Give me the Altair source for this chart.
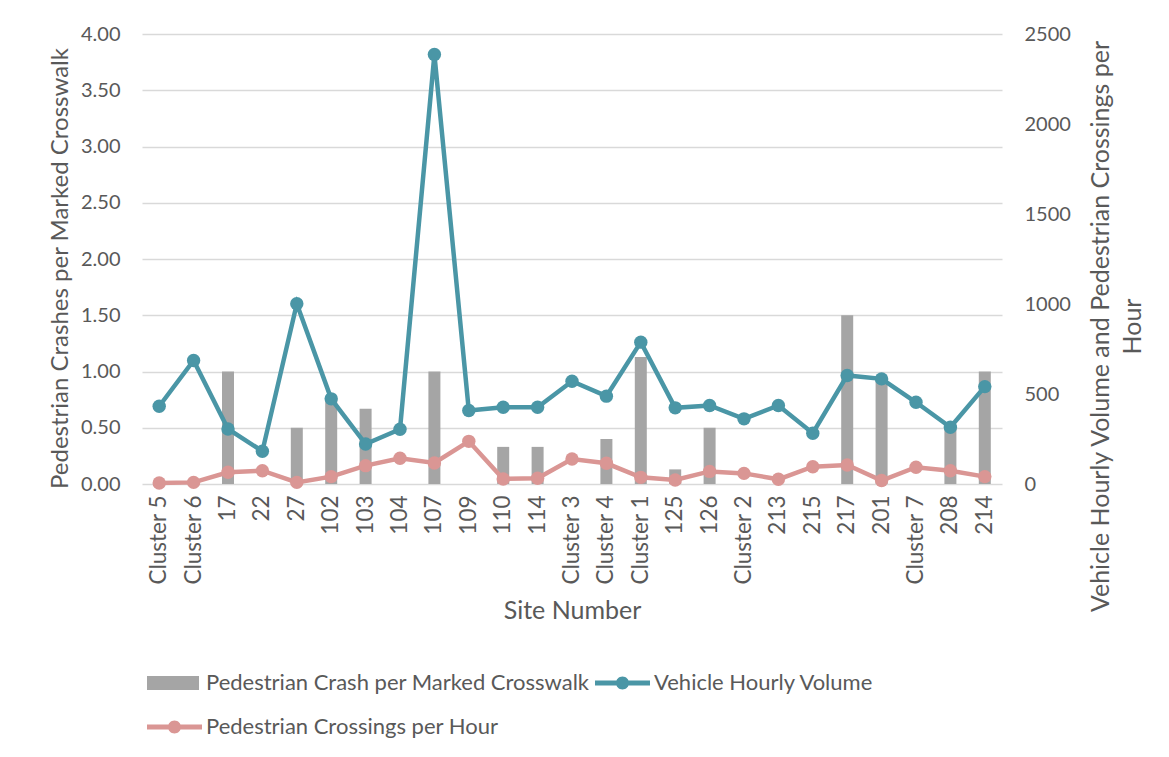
import altair as alt
import pandas as pd

sites = ["Cluster 5", "Cluster 6", "17", "22", "27", "102", "103", "104", "107", "109",
         "110", "114", "Cluster 3", "Cluster 4", "Cluster 1", "125", "126", "Cluster 2",
         "213", "215", "217", "201", "Cluster 7", "208", "214"]
crash_per_crosswalk = [0, 0, 1.00, 0, 0.50, 0.75, 0.67, 0, 1.00, 0,
                       0.33, 0.33, 0, 0.40, 1.13, 0.13, 0.50, 0,
                       0, 0, 1.50, 0.95, 0, 0.50, 1.00]
vehicle_volume = [432, 686, 306, 182, 1001, 473, 222, 304, 2386, 408,
                  426, 426, 571, 488, 788, 423, 436, 362,
                  436, 282, 603, 584, 454, 315, 541]
ped_crossings = [6, 9, 65, 74, 9, 41, 102, 143, 117, 237,
                 28, 32, 139, 115, 37, 22, 70, 59,
                 26, 96, 106, 19, 93, 74, 41]

series_names = ["Pedestrian Crash per Marked Crosswalk", "Vehicle Hourly Volume",
                "Pedestrian Crossings per Hour"]
series_colors = ["#A5A5A5", "#4A96A6", "#DA9694"]

FONT = "Lato"
TXT = "#595959"

df = pd.DataFrame({
    "site": sites,
    "crash": crash_per_crosswalk,
    "vehicle": vehicle_volume,
    "ped": ped_crossings,
})

x_enc = alt.X("site:N", sort=sites,
              scale=alt.Scale(paddingInner=0, paddingOuter=0),
              axis=alt.Axis(title="Site Number", labelAngle=270, labelPadding=11,
                            labelFontSize=22.5, titleFontSize=25,
                            titleY=126, titleBaseline="middle"))

bars = alt.Chart(df).mark_bar(color=series_colors[0], size=12).encode(
    x=x_enc,
    y=alt.Y("crash:Q",
            scale=alt.Scale(domain=[0, 4], nice=False),
            axis=alt.Axis(title="Pedestrian Crashes per Marked Crosswalk",
                          values=[0, 0.5, 1, 1.5, 2, 2.5, 3, 3.5, 4], format=".2f",
                          labelPadding=22, titleX=-82, titleY=234,
                          titleFontSize=24,
                          titleBaseline="middle", grid=True)),
)

right_axis = alt.Axis(title=["Vehicle Hourly Volume and Pedestrian Crossings per", "Hour"],
                      orient="right", values=[0, 500, 1000, 1500, 2000, 2500],
                      format="d", titleFontSize=25,
                      labelPadding=22, grid=False, titleAngle=270,
                      titleX=98, titleY=292, titleBaseline="middle",
                      titleLineHeight=32)
y_right = alt.Scale(domain=[0, 2500], nice=False)

veh = alt.Chart(df).mark_line(
    color=series_colors[1], strokeWidth=4.5,
    point=alt.OverlayMarkDef(filled=True, size=180, opacity=1, color=series_colors[1]),
).encode(x=x_enc, y=alt.Y("vehicle:Q", scale=y_right, axis=right_axis))

ped = alt.Chart(df).mark_line(
    color=series_colors[2], strokeWidth=4.5,
    point=alt.OverlayMarkDef(filled=True, size=180, opacity=1, color=series_colors[2]),
).encode(x=x_enc, y=alt.Y("ped:Q", scale=y_right, axis=right_axis))

lines = alt.layer(veh, ped)

# legend carrier (draws nothing, only provides the legend)
bar_sym = "M-1,-0.7H4.2V0.7H-1Z"
line_sym = ("M-1,-0.25H4.5V0.25H-1Z "
            "M1.1,0A0.65,0.65 0 1,1 2.4,0A0.65,0.65 0 1,1 1.1,0Z")
leg_df = pd.DataFrame({"series": series_names})


def make_legend():
    return alt.Legend(title=None, orient="none", legendX=4, legendY=638,
                      columns=2, direction="horizontal",
                      symbolSize=400, symbolStrokeWidth=0,
                      labelOffset=38, columnPadding=4, rowPadding=22,
                      labelFont=FONT, labelFontSize=22, labelColor=TXT,
                      labelLimit=0)


legend_layer = alt.Chart(leg_df).mark_point(filled=True, opacity=1).encode(
    color=alt.Color("series:N",
                    scale=alt.Scale(domain=series_names, range=series_colors),
                    legend=make_legend()),
    shape=alt.Shape("series:N",
                    scale=alt.Scale(domain=series_names,
                                    range=[bar_sym, line_sym, line_sym]),
                    legend=make_legend()),
).transform_filter("false")

chart = alt.layer(bars, lines, legend_layer).resolve_scale(
    y="independent"
).properties(
    width=860, height=450,
    autosize=alt.AutoSizeParams(type="none"),
    padding={"left": 134, "top": 26, "right": 155, "bottom": 260},
).configure_view(
    stroke=None
).configure_axis(
    domain=False, ticks=False,
    labelFont=FONT, labelFontSize=20, labelColor=TXT,
    titleFont=FONT, titleFontSize=23.5, titleColor=TXT, titleFontWeight="normal",
    gridColor="#D9D9D9", gridWidth=1.5,
)

chart.save("out.html", embed_options={"renderer": "svg", "actions": False})
